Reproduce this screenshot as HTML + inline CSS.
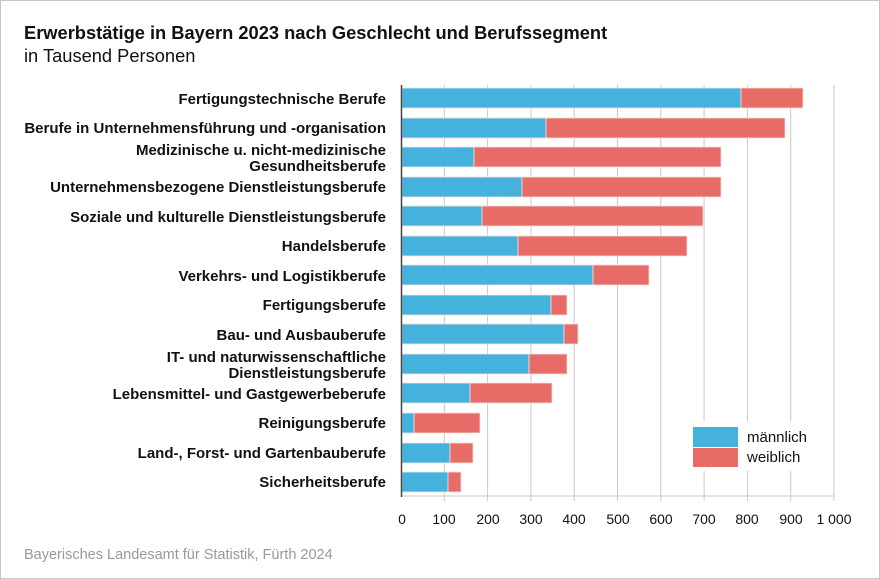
<!DOCTYPE html>
<html><head><meta charset="utf-8"><style>
body{margin:0;background:#fff;}
.w{width:878px;height:577px;border:1px solid #c8c8c8;position:relative;font-family:"Liberation Sans",sans-serif;}
</style></head><body><div class="w">
<svg width="878" height="577" xmlns="http://www.w3.org/2000/svg" style="position:absolute;left:0;top:0;font-family:'Liberation Sans',sans-serif">
<text x="23" y="38" font-size="18.3" font-weight="bold" fill="#111">Erwerbstätige in Bayern 2023 nach Geschlecht und Berufssegment</text>
<text x="23" y="61" font-size="18.3" fill="#111">in Tausend Personen</text>
<g stroke="#c8c8c8" stroke-width="1">
<line x1="443.3" y1="84" x2="443.3" y2="500"/><line x1="486.6" y1="84" x2="486.6" y2="500"/><line x1="529.9" y1="84" x2="529.9" y2="500"/><line x1="573.2" y1="84" x2="573.2" y2="500"/><line x1="616.5" y1="84" x2="616.5" y2="500"/><line x1="659.8" y1="84" x2="659.8" y2="500"/><line x1="703.1" y1="84" x2="703.1" y2="500"/><line x1="746.4" y1="84" x2="746.4" y2="500"/><line x1="789.7" y1="84" x2="789.7" y2="500"/><line x1="833" y1="84" x2="833" y2="500"/>
<line x1="400" y1="495" x2="833" y2="495"/>
</g>
<g stroke="#fbe0dc" stroke-width="0.8">
<rect x="401" y="87" width="339" height="20" fill="#45b2de"/><rect x="740" y="87" width="62" height="20" fill="#e76b66"/>
<rect x="401" y="117" width="144" height="20" fill="#45b2de"/><rect x="545" y="117" width="239" height="20" fill="#e76b66"/>
<rect x="401" y="146" width="72" height="20" fill="#45b2de"/><rect x="473" y="146" width="247" height="20" fill="#e76b66"/>
<rect x="401" y="176" width="120" height="20" fill="#45b2de"/><rect x="521" y="176" width="199" height="20" fill="#e76b66"/>
<rect x="401" y="205" width="80" height="20" fill="#45b2de"/><rect x="481" y="205" width="221" height="20" fill="#e76b66"/>
<rect x="401" y="235" width="116" height="20" fill="#45b2de"/><rect x="517" y="235" width="169" height="20" fill="#e76b66"/>
<rect x="401" y="264" width="191" height="20" fill="#45b2de"/><rect x="592" y="264" width="56" height="20" fill="#e76b66"/>
<rect x="401" y="294" width="149" height="20" fill="#45b2de"/><rect x="550" y="294" width="16" height="20" fill="#e76b66"/>
<rect x="401" y="323" width="162" height="20" fill="#45b2de"/><rect x="563" y="323" width="14" height="20" fill="#e76b66"/>
<rect x="401" y="353" width="127" height="20" fill="#45b2de"/><rect x="528" y="353" width="38" height="20" fill="#e76b66"/>
<rect x="401" y="382" width="68" height="20" fill="#45b2de"/><rect x="469" y="382" width="82" height="20" fill="#e76b66"/>
<rect x="401" y="412" width="12" height="20" fill="#45b2de"/><rect x="413" y="412" width="66" height="20" fill="#e76b66"/>
<rect x="401" y="442" width="48" height="20" fill="#45b2de"/><rect x="449" y="442" width="23" height="20" fill="#e76b66"/>
<rect x="401" y="471" width="46" height="20" fill="#45b2de"/><rect x="447" y="471" width="13" height="20" fill="#e76b66"/>
</g>
<line x1="400.5" y1="84" x2="400.5" y2="496" stroke="#444" stroke-width="1.5"/>
<rect x="685" y="420" width="130" height="50" fill="#fff"/>
<rect x="692" y="426" width="45" height="20" fill="#45b2de"/><rect x="692" y="447" width="45" height="19" fill="#e76b66"/>
<text x="746" y="441" font-size="15" fill="#111">männlich</text><text x="746" y="461" font-size="15" fill="#111">weiblich</text>
<g font-size="14" fill="#111" text-anchor="middle">
<text x="401" y="523">0</text><text x="443" y="523">100</text><text x="487" y="523">200</text><text x="530" y="523">300</text><text x="573" y="523">400</text><text x="617" y="523">500</text><text x="660" y="523">600</text><text x="703" y="523">700</text><text x="746" y="523">800</text><text x="790" y="523">900</text><text x="833" y="523">1 000</text>
</g>
<g font-size="15" font-weight="bold" fill="#111" text-anchor="end">
<text x="385" y="103">Fertigungstechnische Berufe</text>
<text x="385" y="132">Berufe in Unternehmensführung und -organisation</text>
<text x="385" y="154">Medizinische u. nicht-medizinische</text>
<text x="385" y="170">Gesundheitsberufe</text>
<text x="385" y="191">Unternehmensbezogene Dienstleistungsberufe</text>
<text x="385" y="221">Soziale und kulturelle Dienstleistungsberufe</text>
<text x="385" y="250">Handelsberufe</text>
<text x="385" y="280">Verkehrs- und Logistikberufe</text>
<text x="385" y="309">Fertigungsberufe</text>
<text x="385" y="339">Bau- und Ausbauberufe</text>
<text x="385" y="361">IT- und naturwissenschaftliche</text>
<text x="385" y="377">Dienstleistungsberufe</text>
<text x="385" y="398">Lebensmittel- und Gastgewerbeberufe</text>
<text x="385" y="427">Reinigungsberufe</text>
<text x="385" y="457">Land-, Forst- und Gartenbauberufe</text>
<text x="385" y="486">Sicherheitsberufe</text>
</g>
<text x="23" y="558" font-size="14.5" fill="#999">Bayerisches Landesamt für Statistik, Fürth 2024</text>
</svg></div></body></html>
